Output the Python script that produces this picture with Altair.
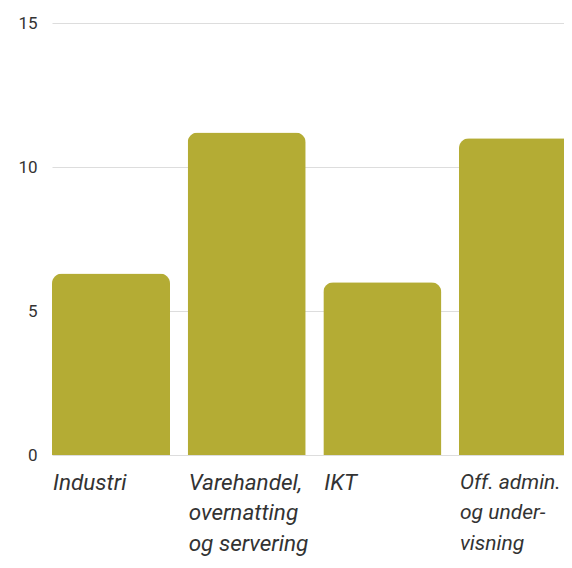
import altair as alt
import pandas as pd

categories = ["Industri", "Varehandel,\novernatting\nog servering", "IKT", "Off. admin.\nog under-\nvisning"]
values = [6.3, 11.2, 6.0, 11.0]

df = pd.DataFrame({"kategori": categories, "verdi": values})

chart = alt.Chart(df).mark_bar(
    color="#b4ac34",
    cornerRadiusTopLeft=10,
    cornerRadiusTopRight=10,
).encode(
    x=alt.X(
        "kategori:N",
        sort=categories,
        title=None,
        scale=alt.Scale(range=[0, 525], paddingInner=0.13, paddingOuter=0),
        axis=alt.Axis(
            labelAngle=0,
            labelAlign="left",
            labelBaseline="top",
            labelExpr="split(datum.label, '\\n')",
            labelFont="Roboto",
            labelFontStyle="italic",
            labelFontSize={"condition": {"test": "indexof(datum.value, 'Off') === 0", "value": 21}, "value": 22.5},
            labelLineHeight=30.5,
            labelColor="#333333",
            labelPadding=16,
            labelOffset=-58,
            ticks=False,
            domain=False,
            grid=False,
            labelOverlap=False,
            labelBound=False,
            labelFlush=False,
        ),
    ),
    y=alt.Y(
        "verdi:Q",
        title=None,
        scale=alt.Scale(domain=[0, 15]),
        axis=alt.Axis(
            values=[0, 5, 10, 15],
            labelFont="Roboto",
            labelFontSize=17,
            labelColor="#333333",
            labelPadding=15,
            ticks=False,
            domain=False,
            gridColor="#dddddd",
            gridWidth=1,
        ),
    ),
).properties(
    width=512,
    height=432,
    autosize=alt.AutoSizeParams(type="none"),
    padding={"left": 44, "top": 15, "right": 0, "bottom": 105},
).configure_view(stroke=None)

chart.save("out.html", embed_options={"renderer": "svg", "actions": False})
